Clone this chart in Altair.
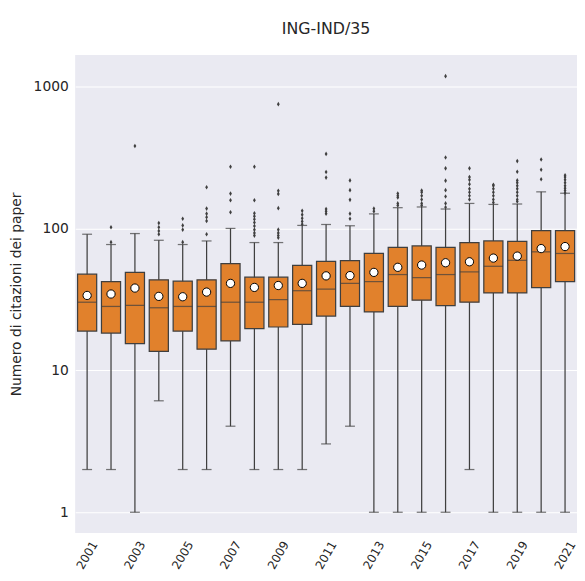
import altair as alt
import pandas as pd

years = [str(y) for y in range(2001, 2022)]
whisker_lo = [2, 2, 1, 6.1, 2, 2, 4.04, 2, 2, 2, 3.03, 4.04, 1, 1, 1, 1, 2, 1, 1, 1, 1]
q1 = [18.9, 18.3, 15.4, 13.6, 18.9, 14.1, 16.1, 19.7, 20.2, 21.1, 24.1, 28.2, 25.8, 28.2, 31.2, 28.6, 30.2, 35.1, 35.1, 38.2, 42.2]
median = [30.2, 28.2, 28.7, 27.6, 28.2, 28.2, 30.2, 30.2, 31.5, 36.4, 37.4, 41, 42.2, 47.3, 45, 47.3, 49.4, 54.1, 59.6, 68.4, 66.6]
q3 = [47.6, 42.2, 49, 43.4, 42.5, 43.4, 56.4, 45.3, 45.3, 55, 58.6, 59.2, 66.6, 73.4, 75.3, 73.4, 79.5, 81.6, 81, 96.4, 96.4]
whisker_hi = [91, 77, 92, 82.5, 77, 81.6, 100, 79.5, 79.5, 105, 106.6, 104.4, 126.6, 140, 141.6, 137, 150, 147.6, 148.6, 181, 177]
means = [33.7, 34.5, 38, 33.2, 33, 35.6, 41, 38.4, 39.6, 41, 46.3, 46.5, 49, 53.2, 55.2, 57.3, 58.2, 61.8, 63.8, 72.1, 74.5]

outliers = {
    "2002": [80, 102],
    "2003": [381],
    "2004": [91, 96, 102, 109],
    "2005": [80, 98, 105, 117],
    "2006": [91, 113, 120, 127, 138, 195],
    "2007": [130, 158, 176, 272],
    "2008": [89, 93, 98, 104, 110, 116, 122, 128, 158, 272],
    "2009": [86, 89, 93, 98, 139, 175, 184, 751],
    "2010": [107, 112, 118, 125, 133],
    "2011": [127, 132, 137, 228, 250, 335],
    "2012": [117, 127, 159, 186, 218],
    "2013": [132, 138],
    "2014": [145, 150, 165, 170, 176],
    "2015": [145, 150, 160, 170, 180, 185],
    "2016": [141, 150, 168, 186, 217, 265, 316, 1183],
    "2017": [160, 170, 180, 190, 205, 220, 230, 265],
    "2018": [152, 160, 170, 180, 190, 200, 203],
    "2019": [155, 160, 170, 180, 190, 200, 210, 218, 251, 298],
    "2020": [222, 259, 306],
    "2021": [178, 185, 192, 200, 210, 220, 230, 237],
}

box_df = pd.DataFrame({
    "year": years, "lo": whisker_lo, "q1": q1, "med": median,
    "q3": q3, "hi": whisker_hi, "mean": means,
})
out_rows = [{"year": y, "v": v} for y, vals in outliers.items() for v in vals]
out_df = pd.DataFrame(out_rows)

FONT = "DejaVu Sans"
EDGE = "#3f3f3f"
ORANGE = "#e1812c"
TXT = "#262626"

yscale = alt.Scale(type="log", domain=[0.714, 1670], nice=False)
xscale = alt.Scale(domain=years, paddingInner=0, paddingOuter=0)

x_enc = alt.X("year:N", scale=xscale, sort=years,
              axis=alt.Axis(title=None, values=years[::2], labelAngle=-60,
                            labelAlign="center", labelBaseline="middle",
                            labelFontSize=12, labelColor=TXT, labelFont=FONT,
                            domain=False, ticks=False, grid=False, labelPadding=22))

base = alt.Chart(box_df)

whisk = base.mark_rule(color=EDGE, strokeWidth=1.25).encode(
    x=x_enc,
    y=alt.Y("lo:Q", scale=yscale,
            axis=alt.Axis(title="Numero di citazioni dei paper", values=[1, 10, 100, 1000],
                          format="d", labelFontSize=14, labelColor=TXT, labelFont=FONT,
                          labelPadding=7,
                          titleFont=FONT, titleFontSize=14, titleFontWeight="normal",
                          titleColor=TXT, titlePadding=10,
                          domain=False, ticks=False, gridColor="white", gridWidth=1.2)),
    y2="hi:Q",
)

box = base.mark_bar(width={"band": 0.8}, color=ORANGE, stroke=EDGE, strokeWidth=1.25).encode(
    x=alt.X("year:N", scale=xscale, sort=years),
    y=alt.Y("q1:Q", scale=yscale),
    y2="q3:Q",
)

med = base.mark_tick(color=EDGE, size=19.4, thickness=1.25).encode(
    x=alt.X("year:N", scale=xscale, sort=years),
    y=alt.Y("med:Q", scale=yscale),
)

cap_lo = base.mark_tick(color=EDGE, size=10, thickness=1.25).encode(
    x=alt.X("year:N", scale=xscale, sort=years),
    y=alt.Y("lo:Q", scale=yscale),
)
cap_hi = base.mark_tick(color=EDGE, size=10, thickness=1.25).encode(
    x=alt.X("year:N", scale=xscale, sort=years),
    y=alt.Y("hi:Q", scale=yscale),
)

fliers = alt.Chart(out_df).mark_point(
    shape="M0,-1L0.6,0L0,1L-0.6,0Z", filled=True, color=EDGE, size=22, opacity=1
).encode(
    x=alt.X("year:N", scale=xscale, sort=years),
    y=alt.Y("v:Q", scale=yscale),
)

mean_pts = base.mark_point(shape="circle", filled=True, fill="white", stroke="black",
                           strokeWidth=1, size=70, opacity=1).encode(
    x=alt.X("year:N", scale=xscale, sort=years),
    y=alt.Y("mean:Q", scale=yscale),
)

chart = alt.layer(whisk, box, med, cap_lo, cap_hi, fliers, mean_pts).properties(
    width=508, height=484,
    background="white",
    title=alt.TitleParams("ING-IND/35", font=FONT, fontSize=16, fontWeight="normal",
                          color=TXT, anchor="middle", offset=18),
    autosize=alt.AutoSizeParams(type="none"),
    padding={"left": 68, "top": 44, "right": 0, "bottom": 37},
).configure_view(
    fill="#eaeaf2", stroke=None
)

chart.save("out.html", embed_options={"renderer": "svg", "actions": False})
